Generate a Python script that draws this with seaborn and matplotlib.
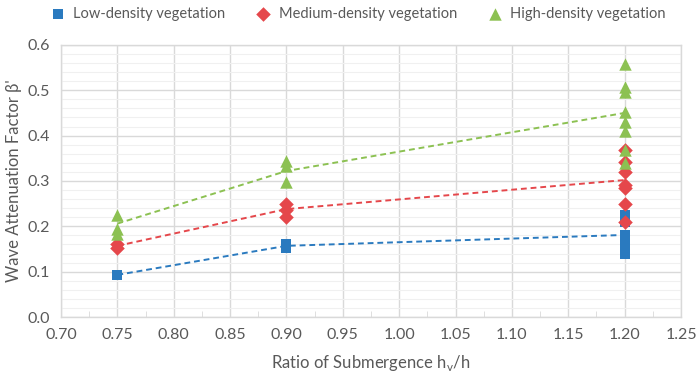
import numpy as np
import matplotlib.pyplot as plt
import seaborn as sns
import pandas as pd
from matplotlib.ticker import MultipleLocator, FormatStrFormatter

# measured points
low_x = [0.75, 0.90, 0.90, 1.20, 1.20, 1.20, 1.20, 1.20, 1.20]
low_y = [0.093, 0.152, 0.162, 0.225, 0.21, 0.18, 0.165, 0.15, 0.14]
med_x = [0.75, 0.75, 0.90, 0.90, 0.90, 1.20, 1.20, 1.20, 1.20, 1.20, 1.20, 1.20]
med_y = [0.16, 0.152, 0.25, 0.236, 0.22, 0.368, 0.342, 0.32, 0.29, 0.285, 0.25, 0.21]
high_x = [0.75, 0.75, 0.75, 0.90, 0.90, 0.90,
          1.20, 1.20, 1.20, 1.20, 1.20, 1.20, 1.20, 1.20]
high_y = [0.224, 0.195, 0.183, 0.345, 0.333, 0.297,
          0.557, 0.508, 0.495, 0.452, 0.43, 0.41, 0.368, 0.34]

# trend lines
trend_x = [0.75, 0.90, 1.20]
low_trend = [0.093, 0.157, 0.181]
med_trend = [0.157, 0.238, 0.302]
high_trend = [0.206, 0.322, 0.45]

names = ['Low-density vegetation', 'Medium-density vegetation', 'High-density vegetation']
colors = ['#2A7ABF', '#E5474B', '#8CC152']

pts = pd.DataFrame({
    'x': low_x + med_x + high_x,
    'y': low_y + med_y + high_y,
    'group': [names[0]] * len(low_x) + [names[1]] * len(med_x) + [names[2]] * len(high_x),
})
trend = pd.DataFrame({
    'x': trend_x * 3,
    'y': low_trend + med_trend + high_trend,
    'group': [n for n in names for _ in trend_x],
})

sns.set_style('white')
plt.rcParams['font.family'] = ['Lato', 'DejaVu Sans']

fig = plt.figure(figsize=(6.99, 3.77), dpi=100)
ax = fig.add_axes([0.0873, 0.159, 0.887, 0.722])

pal = dict(zip(names, colors))
sns.lineplot(data=trend, x='x', y='y', hue='group', palette=pal, ax=ax,
             legend=False, linewidth=1.4, zorder=2)
for ln in ax.get_lines():
    ln.set_dashes([3, 2])

sizes = {names[0]: 55, names[1]: 55, names[2]: 80}
for n, m in zip(names, ['s', 'D', '^']):
    d = pts[pts.group == n]
    sns.scatterplot(data=d, x='x', y='y', color=pal[n], marker=m, s=sizes[n],
                    linewidth=0, ax=ax, label=n, zorder=3)

ax.set_xlim(0.70, 1.25)
ax.set_ylim(0.0, 0.6)
ax.xaxis.set_major_locator(MultipleLocator(0.05))
ax.xaxis.set_minor_locator(MultipleLocator(0.025))
ax.yaxis.set_major_locator(MultipleLocator(0.1))
ax.yaxis.set_minor_locator(MultipleLocator(0.02))
ax.xaxis.set_major_formatter(FormatStrFormatter('%.2f'))
ax.yaxis.set_major_formatter(FormatStrFormatter('%.1f'))

ax.grid(True, which='major', color='#D9D9D9', linewidth=1.0)
ax.grid(True, which='minor', axis='y', color='#F0F0F0', linewidth=0.8)
ax.set_axisbelow(True)
for s in ax.spines.values():
    s.set_color('#D9D9D9')
    s.set_linewidth(1.0)

ax.tick_params(axis='both', which='major', labelsize=11.5, labelcolor='#595959',
               length=0, pad=8)
ax.tick_params(axis='x', which='minor', direction='in', length=4, color='#D9D9D9',
               bottom=True)
ax.tick_params(axis='y', which='minor', length=0)

ax.set_xlabel(r'Ratio of Submergence h$_\mathregular{v}$/h', fontsize=12,
              color='#595959', labelpad=8)
ax.set_ylabel("Wave Attenuation Factor β'", fontsize=12, color='#595959',
              labelpad=4)

ax.legend(loc='upper center', bbox_to_anchor=(0.507, 1.0),
          bbox_transform=fig.transFigure, ncol=3, frameon=False, fontsize=10.5,
          labelcolor='#595959', handletextpad=0.05, columnspacing=1.6,
          borderaxespad=0.1)

fig.savefig('out.png', dpi=100)
